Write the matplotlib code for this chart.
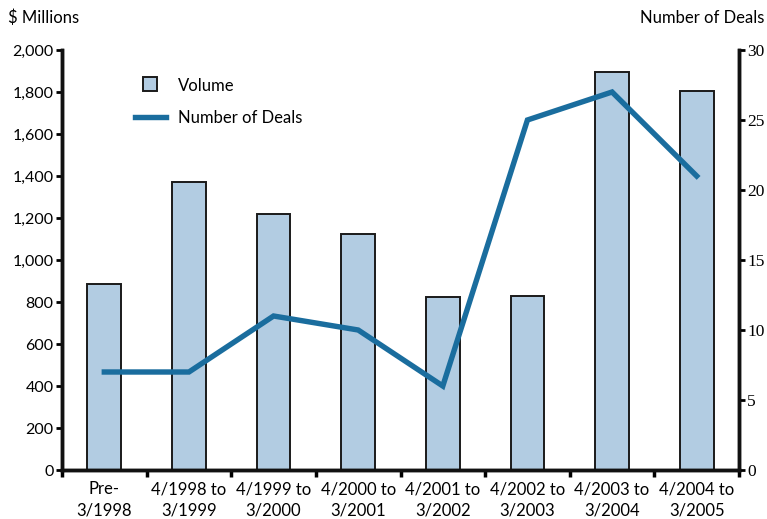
import matplotlib
matplotlib.use("Agg")
import matplotlib.pyplot as plt
from matplotlib.lines import Line2D
import numpy as np

periods = ["Pre-\n3/1998", "4/1998 to\n3/1999", "4/1999 to\n3/2000", "4/2000 to\n3/2001",
           "4/2001 to\n3/2002", "4/2002 to\n3/2003", "4/2003 to\n3/2004", "4/2004 to\n3/2005"]
volume = [885, 1370, 1220, 1125, 825, 830, 1895, 1805]      # $ millions
deals = [7, 7, 11, 10, 6, 25, 27, 21]                       # number of deals
left_ticks = [0, 200, 400, 600, 800, 1000, 1200, 1400, 1600, 1800, 2000]
right_ticks = [0, 5, 10, 15, 20, 25, 30]

bar_color = "#b2cce2"
line_color = "#1a6d9e"
sans = ["Lato", "DejaVu Sans"]
serif = ["Liberation Serif", "DejaVu Serif"]

fig = plt.figure(figsize=(7.67, 5.19), dpi=100)
ax = fig.add_axes([62 / 767, 1 - 470 / 519, (739 - 62) / 767, 420 / 519])
ax2 = ax.twinx()

x = np.arange(len(periods))
ax.bar(x, volume, width=0.4, color=bar_color, edgecolor="#1a1a1a", linewidth=1.4, zorder=2)
ax2.plot(x, deals, color=line_color, linewidth=3.9, solid_joinstyle="miter", zorder=3)

ax.set_xlim(-0.5, len(periods) - 0.5)
ax.set_ylim(0, 2000)
ax2.set_ylim(0, 30)

ax.set_yticks(left_ticks)
ax.set_yticklabels([f"{v:,}" for v in left_ticks], fontfamily=sans, fontsize=11.5)
ax2.set_yticks(right_ticks)
ax2.set_yticklabels([str(v) for v in right_ticks], fontfamily=serif, fontsize=12.5)

ax.set_xticks(x)
ax.set_xticklabels(periods, fontfamily=sans, fontsize=12, linespacing=1.45)
ax.set_xticks(np.arange(-0.5, len(periods), 1.0), minor=True)
ax.tick_params(axis="x", which="major", length=0, pad=8)
ax.tick_params(axis="x", which="minor", length=5, width=2.5, direction="out")
ax.tick_params(axis="y", length=4, width=2.0, direction="out", pad=2)
ax2.tick_params(axis="y", length=4, width=2.0, direction="out", pad=2)

for a in (ax, ax2):
    a.spines["top"].set_visible(False)
    for s in ("left", "right", "bottom"):
        a.spines[s].set_linewidth(2.5)
        a.spines[s].set_color("#111111")
ax.patch.set_visible(False)
ax2.patch.set_visible(False)
ax.set_zorder(1)
ax2.set_zorder(2)

fig.text(8 / 767, 1 - 18 / 519, "$ Millions", fontfamily=sans, fontsize=12, va="center", ha="left")
fig.text(764 / 767, 1 - 18 / 519, "Number of Deals", fontfamily=sans, fontsize=12, va="center", ha="right")

handles = [
    Line2D([0], [0], linestyle="none", marker="s", markersize=9.5, markerfacecolor=bar_color,
           markeredgecolor="#1a1a1a", markeredgewidth=1.4, label="Volume"),
    Line2D([0], [0], color=line_color, linewidth=3.9, label="Number of Deals"),
]
ax2.legend(handles=handles, loc="upper left", bbox_to_anchor=(0.085, 0.97), frameon=False,
           prop={"family": sans, "size": 12}, handlelength=1.9, handleheight=0.9,
           labelspacing=1.0, handletextpad=0.7)

fig.savefig("out.png", dpi=100)
